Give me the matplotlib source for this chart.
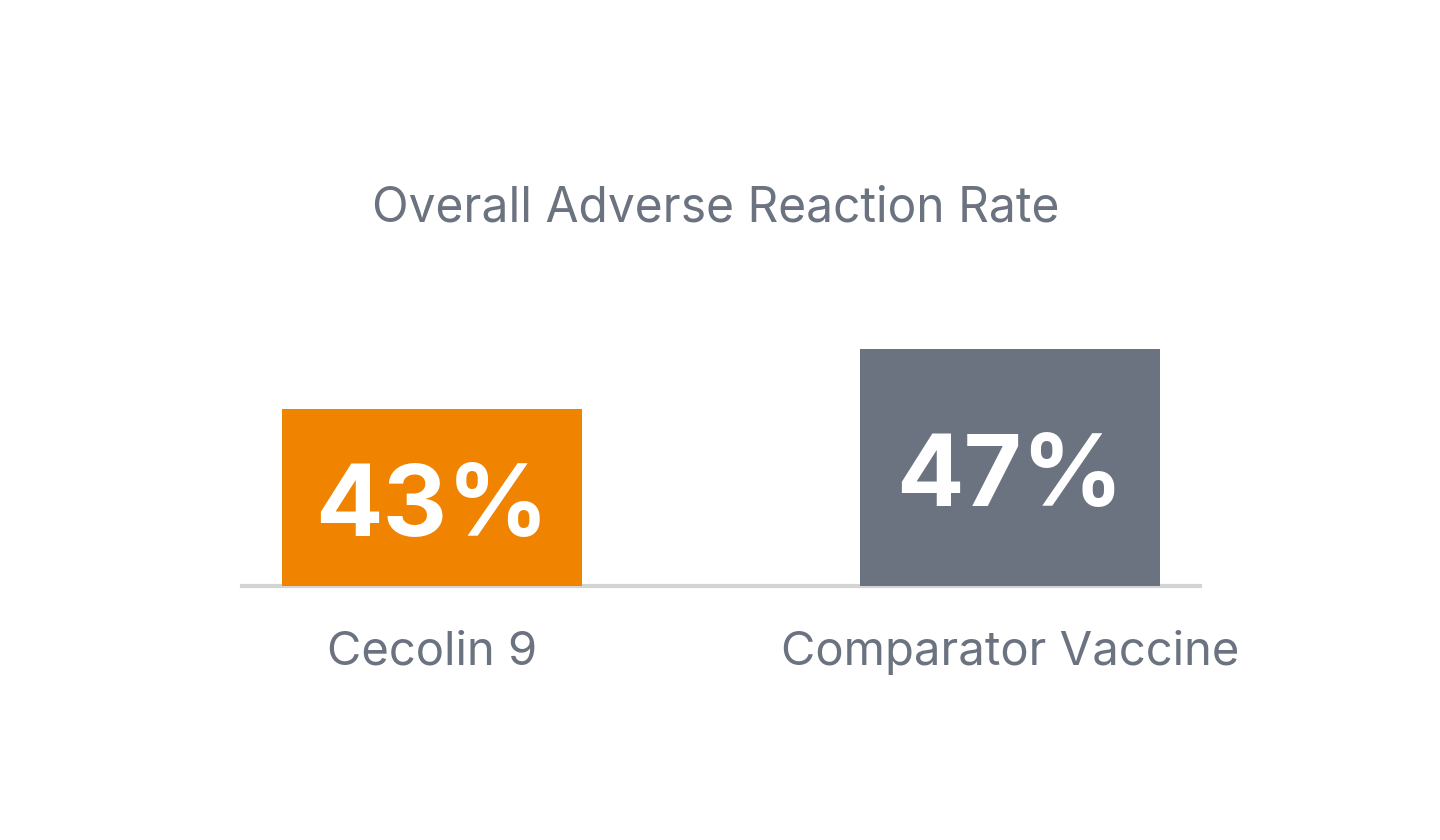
import matplotlib.pyplot as plt

categories = ["Cecolin 9", "Comparator Vaccine"]
values = [43, 47]
labels = ["43%", "47%"]
colors = ["#F08300", "#6B7280"]

W, H = 1440, 840
fig = plt.figure(figsize=(W / 100, H / 100), dpi=100)
plt.rcParams['font.family'] = ['Inter', 'DejaVu Sans']

# axes placed in pixel coordinates: x 242..1200, y baseline 586, top 286
ax = fig.add_axes([242 / W, (H - 586) / H, 958 / W, 300 / H])
y0 = 31.2
ax.set_ylim(y0, y0 + 300 / 15)
ax.set_xlim(-0.3287, 1.3287)

x = range(len(categories))
ax.bar(x, [v - y0 for v in values], bottom=y0, width=0.519, color=colors, zorder=3)

for i, v in enumerate(values):
    ax.annotate(labels[i], xy=(i, (v + y0) / 2), xytext=(0, -9), textcoords='offset points',
                ha='center', va='center', color='white',
                fontsize=72, fontweight='bold', zorder=4)

for s in ['top', 'left', 'right']:
    ax.spines[s].set_visible(False)
ax.spines['bottom'].set_color('#d4d4d4')
ax.spines['bottom'].set_linewidth(3)
ax.set_yticks([])
ax.set_xticks(list(x))
ax.set_xticklabels(categories, fontsize=34, color='#6B7280')
ax.tick_params(axis='x', length=0, pad=32)

fig.text(716 / W, 1 - 208 / H, "Overall Adverse Reaction Rate", ha='center', va='center',
         fontsize=34.5, color='#6B7280')

fig.savefig("out.png", dpi=100, facecolor='white')
